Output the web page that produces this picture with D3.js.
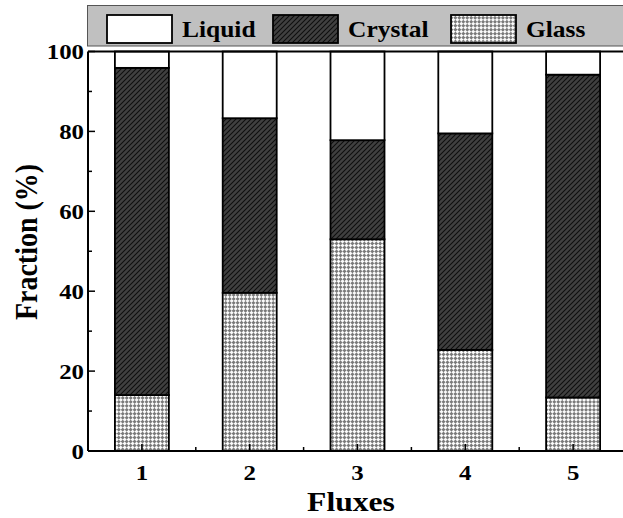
<!DOCTYPE html>
<html>
<head>
<meta charset="utf-8">
<script src="https://cdn.jsdelivr.net/npm/d3@7"></script>
<style>
  html, body { margin: 0; padding: 0; background: #fff; }
  svg { display: block; }
</style>
</head>
<body>
<div id="chart"></div>
<script>
// Phase fractions (%) for each flux composition
const fluxes = ["1", "2", "3", "4", "5"];
const glass   = [14.0, 39.6, 53.0, 25.3, 13.4];
const crystal = [81.9, 43.7, 24.8, 54.2, 80.8];
const liquid  = [4.1, 16.7, 22.2, 20.5, 5.8];
const seriesNames = ["Glass", "Crystal", "Liquid"];
const legendOrder = ["Liquid", "Crystal", "Glass"];
const yTicks = [0, 20, 40, 60, 80, 100];

const W = 623, H = 518;
const margin = { left: 88, top: 51.5, bottom: 451 };
const sx = 1.13; // horizontal stretch applied to glyphs
const FONT = "Liberation Serif, Times New Roman, serif";

const svg = d3.select("#chart").append("svg")
  .attr("width", W).attr("height", H)
  .attr("font-family", FONT).attr("font-weight", "bold");

const defs = svg.append("defs");

// diagonal hatching for crystal
const pc = defs.append("pattern").attr("id", "hatch")
  .attr("patternUnits", "userSpaceOnUse").attr("width", 5).attr("height", 5);
pc.append("rect").attr("width", 5).attr("height", 5).attr("fill", "#404040");
pc.append("path").attr("d", "M0,5 L5,0 M-1,1 L1,-1 M4,6 L6,4")
  .attr("stroke", "#0d0d0d").attr("stroke-width", 1.1);

// diamond checker for glass
const cs = 2.8;
const pg = defs.append("pattern").attr("id", "checker")
  .attr("patternUnits", "userSpaceOnUse").attr("width", 2 * cs).attr("height", 2 * cs)
  .attr("patternTransform", "rotate(45)");
pg.append("rect").attr("width", 2 * cs).attr("height", 2 * cs).attr("fill", "#fafafa");
pg.append("rect").attr("width", cs).attr("height", cs).attr("fill", "#7a7a7a");
pg.append("rect").attr("x", cs).attr("y", cs).attr("width", cs).attr("height", cs).attr("fill", "#7a7a7a");

const fills = { Liquid: "#ffffff", Crystal: "url(#hatch)", Glass: "url(#checker)" };

const x = d3.scaleLinear().domain([0.5, 5.5]).range([margin.left, 627]);
const y = d3.scaleLinear().domain([0, 100]).range([margin.bottom, margin.top]);
const barW = 54;

const rows = fluxes.map((f, i) => ({ flux: f, Glass: glass[i], Crystal: crystal[i], Liquid: liquid[i] }));
const stacked = d3.stack().keys(seriesNames)(rows);

// bars
const gBars = svg.append("g");
stacked.forEach(layer => {
  gBars.selectAll(null).data(layer).join("rect")
    .attr("x", (d, i) => x(i + 1) - barW / 2)
    .attr("width", barW)
    .attr("y", d => y(d[1]))
    .attr("height", d => y(d[0]) - y(d[1]))
    .attr("fill", fills[layer.key])
    .attr("stroke", "#000")
    .attr("stroke-width", 1.8);
});

// axes: ticks point inward
const axisStroke = 2;
const xAxis = svg.append("g").attr("transform", `translate(0,${margin.bottom})`);
xAxis.append("line").attr("x1", margin.left).attr("x2", W + 5)
  .attr("stroke", "#000").attr("stroke-width", axisStroke);
xAxis.selectAll(".maj").data(d3.range(1, 6)).join("line")
  .attr("x1", d => x(d)).attr("x2", d => x(d)).attr("y1", 0).attr("y2", -7)
  .attr("stroke", "#000").attr("stroke-width", 1.5);
xAxis.selectAll(".min").data([1.5, 2.5, 3.5, 4.5]).join("line")
  .attr("x1", d => x(d)).attr("x2", d => x(d)).attr("y1", 0).attr("y2", -4)
  .attr("stroke", "#000").attr("stroke-width", 1.5);
xAxis.selectAll("g.lab").data(fluxes).join("g")
  .attr("transform", (d, i) => `translate(${x(i + 1)},29) scale(${sx},1)`)
  .append("text").attr("text-anchor", "middle").attr("font-size", 22).text(d => d);

// top frame line
svg.append("line").attr("x1", margin.left).attr("x2", W + 5)
  .attr("y1", margin.top).attr("y2", margin.top)
  .attr("stroke", "#000").attr("stroke-width", axisStroke);

const yAxis = svg.append("g").attr("transform", `translate(${margin.left},0)`);
yAxis.append("line").attr("y1", margin.top).attr("y2", margin.bottom)
  .attr("stroke", "#000").attr("stroke-width", axisStroke);
yAxis.selectAll(".maj").data(yTicks).join("line")
  .attr("y1", d => y(d)).attr("y2", d => y(d)).attr("x1", 0).attr("x2", 7)
  .attr("stroke", "#000").attr("stroke-width", 1.5);
yAxis.selectAll(".min").data([10, 30, 50, 70, 90]).join("line")
  .attr("y1", d => y(d)).attr("y2", d => y(d)).attr("x1", 0).attr("x2", 4)
  .attr("stroke", "#000").attr("stroke-width", 1.5);
yAxis.selectAll("g.lab").data(yTicks).join("g")
  .attr("transform", d => `translate(-4,${y(d) + 7.5}) scale(${sx},1)`)
  .append("text").attr("text-anchor", "end").attr("font-size", 22).text(d => d);

// axis titles
svg.append("g").attr("transform", `translate(351,511) scale(${sx},1)`)
  .append("text").attr("text-anchor", "middle").attr("font-size", 28).text("Fluxes");
svg.append("g").attr("transform", `translate(37,242) rotate(-90) scale(1,${sx})`)
  .append("text").attr("text-anchor", "middle").attr("font-size", 28).text("Fraction (%)");

// legend band
const leg = svg.append("g");
leg.append("rect").attr("x", 87.5).attr("y", 5.5).attr("width", 560).attr("height", 40.5)
  .attr("fill", "#c0c0c0").attr("stroke", "#555").attr("stroke-width", 1);
const legPos = { Liquid: 107, Crystal: 273, Glass: 451 };
legendOrder.forEach(k => {
  leg.append("rect").attr("x", legPos[k]).attr("y", 15).attr("width", 65).attr("height", 28)
    .attr("fill", fills[k]).attr("stroke", "#000").attr("stroke-width", 1.8);
  leg.append("g").attr("transform", `translate(${legPos[k] + 75},37) scale(${sx * 0.98},1)`)
    .append("text").attr("font-size", 23).text(k);
});
</script>
</body>
</html>
